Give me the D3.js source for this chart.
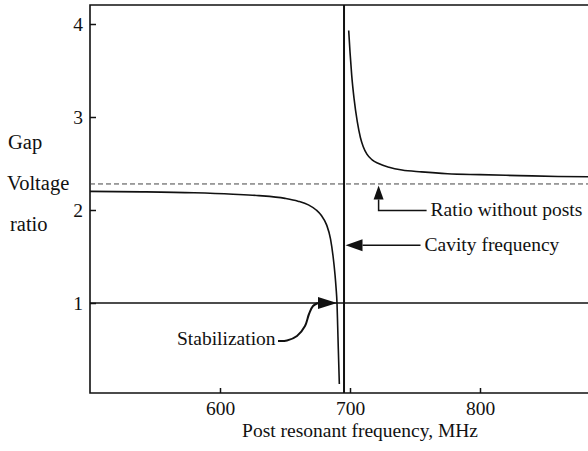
<!DOCTYPE html>
<html>
<head>
<meta charset="utf-8">
<script src="https://cdn.jsdelivr.net/npm/d3@7"></script>
<style>
  html, body { margin: 0; padding: 0; background: #fff; }
  svg { display: block; }
  text { font-family: "Liberation Serif", "Times New Roman", serif; fill: #111; }
</style>
</head>
<body>
<svg id="chart" width="588" height="451"></svg>
<script>
// Gap voltage ratio versus post resonant frequency (MHz)
// Branch below the cavity frequency
const lowFreq  = [500, 540, 580, 610, 630, 650, 660, 668, 674, 678, 682, 685, 687, 688.5, 689.3, 690, 690.5, 691.0, 691.8];
const lowRatio = [2.20, 2.195, 2.185, 2.17, 2.155, 2.125, 2.095, 2.055, 2.00, 1.94, 1.84, 1.69, 1.50, 1.30, 1.16, 1.00, 0.76, 0.51, 0.13];
// Branch above the cavity frequency
const highFreq  = [699.0, 700.0, 701.3, 703.1, 705.6, 708.0, 710.2, 713, 717, 722, 730, 740, 755, 775, 800, 830, 860, 900];
const highRatio = [3.93, 3.70, 3.45, 3.20, 2.95, 2.78, 2.68, 2.60, 2.54, 2.50, 2.46, 2.43, 2.41, 2.39, 2.38, 2.37, 2.36, 2.355];

const xTicks = [600, 700, 800];
const yTicks = [1, 2, 3, 4];

const cavityFreq = 695.4;        // cavity frequency, MHz
const ratioWithoutPosts = 2.28;  // ratio of the cavity without posts
const stabilizationRatio = 1;    // stabilized ratio
const stabilizationFreq = 690;
const cavityArrowRatio = 1.62;   // height of the "Cavity frequency" pointer
const ratioArrowFreq = 722;      // where the "Ratio without posts" pointer sits

const W = 588, H = 451;
const plotTop = 5, plotBottom = 393, plotRight = W;
const ink = "#111";
const serif = '"Liberation Serif", "Times New Roman", serif';

const svg = d3.select("#chart");
svg.append("rect").attr("width", W).attr("height", H).attr("fill", "#fff");

const x = d3.scaleLinear().domain([500, 900]).range([90, 610]);
const y = d3.scaleLinear().domain([1, 4]).range([303, 24]);
const plotLeft = x(500);

// Frame: left axis, top and bottom rules
svg.append("path")
  .attr("d", `M${plotRight},${plotTop}H${plotLeft}V${plotBottom}H${plotRight}`)
  .attr("fill", "none").attr("stroke", ink).attr("stroke-width", 1.6);

// Axes with inward ticks
const yAxis = svg.append("g")
  .attr("transform", `translate(${plotLeft},0)`)
  .call(d3.axisLeft(y).tickValues(yTicks).tickFormat(d3.format("d"))
    .tickSizeInner(-6).tickSizeOuter(0).tickPadding(7));
yAxis.select(".domain").remove();
yAxis.selectAll(".tick line").attr("stroke", ink).attr("stroke-width", 1.5);
yAxis.selectAll(".tick text").attr("font-size", 19.5).attr("fill", ink)
  .style("font-family", serif);

const xAxis = svg.append("g")
  .attr("transform", `translate(0,${plotBottom})`)
  .call(d3.axisBottom(x).tickValues(xTicks).tickFormat(d3.format("d"))
    .tickSizeInner(-5).tickSizeOuter(0).tickPadding(8.5));
xAxis.select(".domain").remove();
xAxis.selectAll(".tick line").attr("stroke", ink).attr("stroke-width", 1.5);
xAxis.selectAll(".tick text").attr("font-size", 19.5).attr("fill", ink)
  .style("font-family", serif);

// Axis titles
svg.append("text").attr("x", 360).attr("y", 437).attr("text-anchor", "middle")
  .attr("font-size", 19.5).text("Post resonant frequency, MHz");
const yTitle = [["Gap", 8, 149], ["Voltage", 7, 190], ["ratio", 10, 231]];
yTitle.forEach(([t, tx, ty]) => {
  svg.append("text").attr("x", tx).attr("y", ty).attr("font-size", 20.5).text(t);
});

// Reference levels
svg.append("line")
  .attr("x1", plotLeft).attr("x2", plotRight)
  .attr("y1", y(ratioWithoutPosts)).attr("y2", y(ratioWithoutPosts))
  .attr("stroke", "#444").attr("stroke-width", 1).attr("stroke-dasharray", "5,3");
svg.append("line")
  .attr("x1", plotLeft).attr("x2", plotRight)
  .attr("y1", y(stabilizationRatio)).attr("y2", y(stabilizationRatio))
  .attr("stroke", ink).attr("stroke-width", 1.6);

// Cavity frequency
svg.append("line")
  .attr("x1", x(cavityFreq)).attr("x2", x(cavityFreq))
  .attr("y1", plotTop).attr("y2", plotBottom)
  .attr("stroke", ink).attr("stroke-width", 2);

// Ratio curves
const line = d3.line().x(d => x(d[0])).y(d => y(d[1])).curve(d3.curveMonotoneX);
const lowData = lowFreq.map((f, i) => [f, lowRatio[i]]);
const highData = highFreq.map((f, i) => [f, highRatio[i]]);
[lowData, highData].forEach(data => {
  svg.append("path").attr("d", line(data))
    .attr("fill", "none").attr("stroke", ink).attr("stroke-width", 1.6);
});

// Annotations
const ann = svg.append("g");
function head(tip, dir, len, half) {
  const [tx, ty] = tip;
  let pts;
  if (dir === "right") pts = [[tx, ty], [tx - len, ty - half], [tx - len, ty + half]];
  if (dir === "left")  pts = [[tx, ty], [tx + len, ty - half], [tx + len, ty + half]];
  if (dir === "up")    pts = [[tx, ty], [tx - half, ty + len], [tx + half, ty + len]];
  ann.append("path").attr("d", "M" + pts.join("L") + "Z").attr("fill", ink);
}

// Stabilization
const sTip = [x(stabilizationFreq), y(stabilizationRatio)];
head(sTip, "right", 19, 6);
const tail = [[-59, 38], [-50, 37.5], [-40, 33], [-32, 23], [-28, 11], [-24, 3], [-19, 0]]
  .map(([dx, dy]) => [sTip[0] + dx, sTip[1] + dy]);
ann.append("path").attr("d", d3.line().curve(d3.curveCatmullRom)(tail))
  .attr("fill", "none").attr("stroke", ink).attr("stroke-width", 2);
ann.append("text").attr("x", sTip[0] - 160).attr("y", sTip[1] + 42)
  .attr("font-size", 19.5).text("Stabilization");

// Cavity frequency
const cTip = [x(cavityFreq) + 1.5, y(cavityArrowRatio)];
head(cTip, "left", 17, 6);
ann.append("line").attr("x1", cTip[0] + 17).attr("x2", cTip[0] + 75)
  .attr("y1", cTip[1]).attr("y2", cTip[1]).attr("stroke", ink).attr("stroke-width", 1.5);
ann.append("text").attr("x", cTip[0] + 79).attr("y", cTip[1] + 6)
  .attr("font-size", 19.5).text("Cavity frequency");

// Ratio without posts
const rTip = [x(ratioArrowFreq), y(ratioWithoutPosts) + 1.5];
head(rTip, "up", 14, 5);
ann.append("path")
  .attr("d", `M${rTip[0]},${rTip[1] + 14}V${rTip[1] + 25}H${rTip[0] + 48}`)
  .attr("fill", "none").attr("stroke", ink).attr("stroke-width", 1.5);
ann.append("text").attr("x", rTip[0] + 52).attr("y", rTip[1] + 31)
  .attr("font-size", 19.5).text("Ratio without posts");
</script>
</body>
</html>
